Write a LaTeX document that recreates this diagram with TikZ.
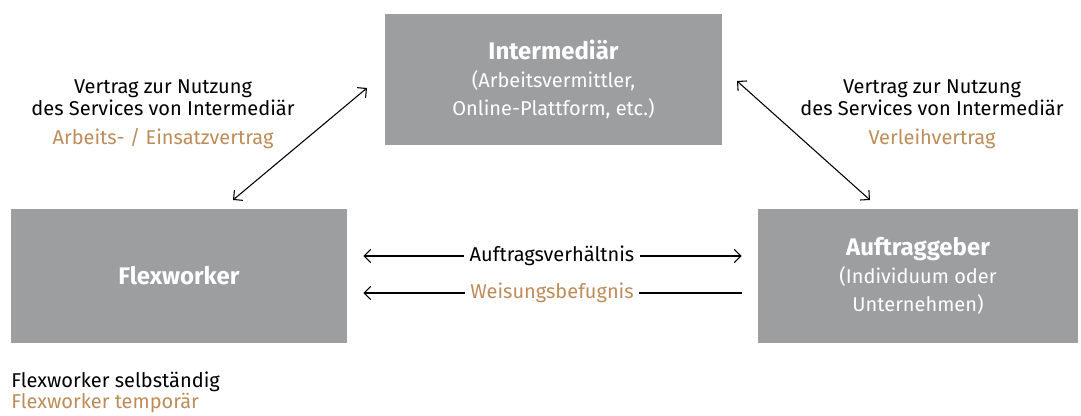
\documentclass[tikz,border=0pt]{standalone}
\usepackage{fontspec}
\setmainfont{Fira Sans}
\usetikzlibrary{arrows.meta, positioning}

\definecolor{boxgray}{RGB}{157,158,160}
\definecolor{contractbrown}{RGB}{190,140,90}

\tikzset{
    party/.style={fill=boxgray, draw=none, text=white, align=center, inner sep=0pt, font=\fontsize{15}{21}\selectfont},
    relation/.style={black, line width=0.8pt, >={Straight Barb[length=5pt, width=10pt]}},
    label/.style={align=center, font=\fontsize{15}{16.5}\selectfont},
}
\newcommand{\partytitle}[1]{{\fontsize{18}{21}\selectfont\bfseries #1}}

\begin{document}
\begin{tikzpicture}[x=0.75pt, y=-0.75pt]
\useasboundingbox (0,0) rectangle (1081,416);

% the three parties
\node[party, minimum width=252.75pt, minimum height=98.25pt] (inter) at (553.5,79.5)
    {\partytitle{Intermediär}\\(Arbeitsvermittler,\\Online-Plattform, etc.)};
\node[party, minimum width=252pt, minimum height=100.5pt] (flex) at (179,276)
    {\partytitle{Flexworker}};
\node[party, minimum width=240pt, minimum height=100.5pt] (client) at (918,276)
    {\partytitle{Auftraggeber}\\(Individuum oder\\Unternehmen)};

% contracts with the intermediary
\node[label] (leftcontract) at (163,114)
    {Vertrag zur Nutzung\\des Services von Intermediär\\[5pt]\textcolor{contractbrown}{Arbeits- / Einsatzvertrag}};
\node[label] (rightcontract) at (932,114)
    {Vertrag zur Nutzung\\des Services von Intermediär\\[5pt]\textcolor{contractbrown}{Verleihvertrag}};

\coordinate (interW) at (367,88);
\coordinate (flexN) at (233,200);
\coordinate (interE) at (737,81);
\coordinate (clientN) at (870,200);
\draw[relation, <->] (flexN) -- (interW);
\draw[relation, <->] (interE) -- (clientN);

% relations between flexworker and client
\node[label, inner sep=4pt] (order) at (552,256) {Auftragsverhältnis};
\node[label, inner sep=4pt, text=contractbrown] (authority) at (552,293) {Weisungsbefugnis};
\draw[relation, ->, shorten >=12pt] (order.west) -- (order.west -| flex.east);
\draw[relation, ->, shorten >=12pt] (order.east) -- (order.east -| client.west);
\draw[relation, ->, shorten >=12pt] (authority.west) -- (authority.west -| flex.east);
\draw[relation, shorten >=12pt] (authority.east) -- (authority.east -| client.west);

% legend
\node[label, anchor=west, inner sep=0pt] (selfemployed) at (11,382) {Flexworker selbständig};
\node[label, anchor=west, inner sep=0pt, text=contractbrown] (temporary) at (11,403) {Flexworker temporär};
\end{tikzpicture}
\end{document}
